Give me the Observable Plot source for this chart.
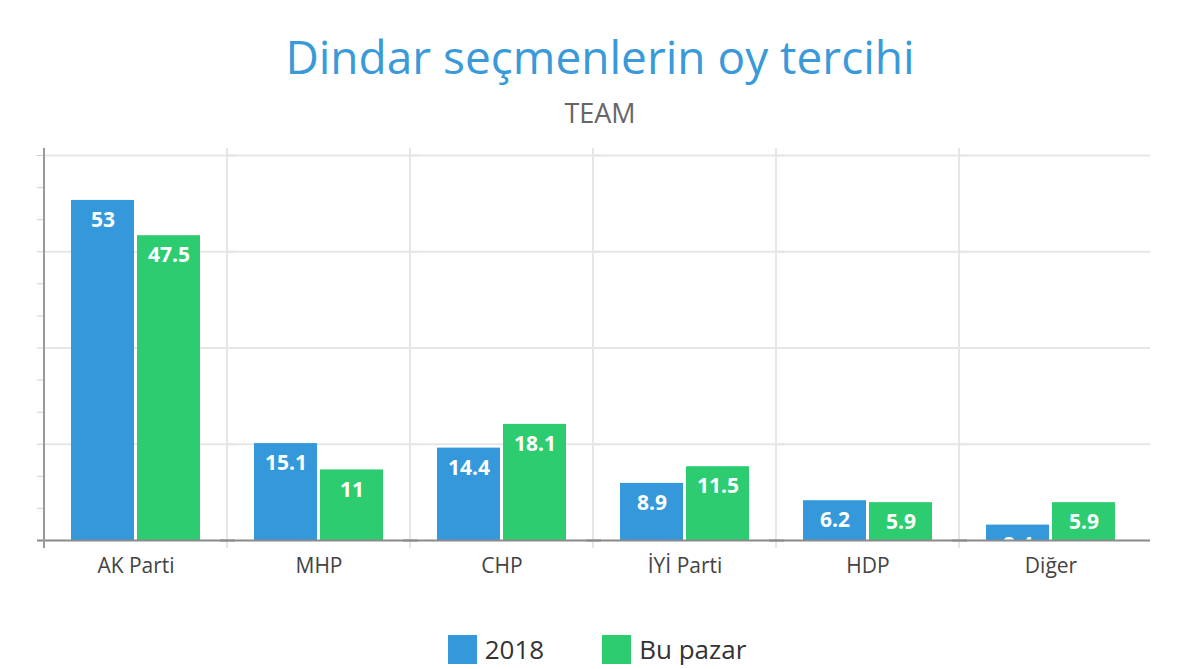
<!DOCTYPE html>
<html>
<head>
<meta charset="utf-8">
<script src="https://cdn.jsdelivr.net/npm/d3@7"></script>
<script src="https://cdn.jsdelivr.net/npm/@observablehq/plot@0.6"></script>
<style>
  html, body { margin: 0; padding: 0; background: #fff; }
  body { width: 1200px; height: 669px; overflow: hidden; font-family: "Open Sans", sans-serif; }
  #head { height: 130px; position: relative; }
  #title { position: absolute; left: 0; right: 0; top: 33px; text-align: center; font-size: 46px; color: #3a9ad9; line-height: 1; }
  #subtitle { position: absolute; left: 0; right: 0; top: 99px; text-align: center; font-size: 27px; color: #666; line-height: 1; }
  #chart { height: 470px; }
  #legend { height: 69px; display: flex; justify-content: center; align-items: flex-start; padding-top: 31px; padding-right: 6px; box-sizing: border-box; }
  .item { display: flex; align-items: center; font-size: 26px; color: #333; margin: 0 29px; }
  .sw { width: 29px; height: 29px; margin-right: 8px; }
</style>
</head>
<body>
<div id="head">
  <div id="title">Dindar seçmenlerin oy tercihi</div>
  <div id="subtitle">TEAM</div>
</div>
<div id="chart"></div>
<div id="legend"></div>
<script>
const parties = ["AK Parti", "MHP", "CHP", "İYİ Parti", "HDP", "Diğer"];
const seriesNames = ["2018", "Bu pazar"];
const values2018 = [53, 15.1, 14.4, 8.9, 6.2, 2.4];
const valuesBuPazar = [47.5, 11, 18.1, 11.5, 5.9, 5.9];
const colors = ["#3498db", "#2ecc71"];
const yTicks = [0, 5, 10, 15, 20, 25, 30, 35, 40, 45, 50, 55, 60];
const yGrid = [15, 30, 45, 60];

const data = [];
parties.forEach((p, i) => {
  data.push({party: p, series: seriesNames[0], value: values2018[i]});
  data.push({party: p, series: seriesNames[1], value: valuesBuPazar[i]});
});

const plot = Plot.plot({
  width: 1200,
  height: 470,
  marginLeft: 42,
  marginRight: 56,
  marginTop: 25,
  marginBottom: 60,
  style: {fontFamily: "Open Sans, sans-serif", background: "#fff"},
  fx: {domain: parties, padding: 0, label: null},
  x: {domain: seriesNames, paddingInner: 0.045, paddingOuter: 0.39, axis: null},
  y: {domain: [0, 60], label: null},
  color: {domain: seriesNames, range: colors},
  marks: [
    Plot.ruleY(yGrid, {stroke: "#e6e6e6", strokeWidth: 2, insetRight: -8}),
    Plot.axisY({ticks: yTicks, tickSize: 7, tickFormat: () => "", stroke: "#cfcfcf", label: null}),
    Plot.barY(data, {fx: "party", x: "series", y: "value", fill: "series", inset: 0}),
    Plot.text(data, {fx: "party", x: "series", y: "value", text: d => String(d.value), dy: 20, fill: "#fff", fontSize: 21, fontWeight: "bold", clip: true}),
    Plot.ruleY([0], {stroke: "#8a8a8a", strokeWidth: 2, insetLeft: -7, insetRight: -8}),
    Plot.axisFx({anchor: "bottom", tickSize: 0, tickPadding: 18, fontSize: 21, fill: "#444", label: null})
  ]
});

document.getElementById("chart").appendChild(plot);

// category boundary gridlines and the y axis line, from Plot's own scales
const fx = plot.scale("fx");
const y = plot.scale("y");
const svg = d3.select(plot);
const gv = svg.insert("g", ":first-child").attr("class", "vgrid");
parties.forEach((p, i) => {
  if (i === 0) return;
  const xx = fx.apply(p);
  gv.append("line").attr("x1", xx).attr("x2", xx)
    .attr("y1", y.apply(60) - 7).attr("y2", y.apply(0) + 8)
    .attr("stroke", "#e6e6e6").attr("stroke-width", 2);
});
const x0 = fx.apply(parties[0]);
svg.append("line").attr("x1", x0).attr("x2", x0)
  .attr("y1", y.apply(60) - 7).attr("y2", y.apply(0) + 8)
  .attr("stroke", "#999").attr("stroke-width", 2);

// legend
const legend = d3.select("#legend");
seriesNames.forEach((s, i) => {
  const it = legend.append("div").attr("class", "item");
  it.append("div").attr("class", "sw").style("background", colors[i]);
  it.append("span").text(s);
});
</script>
</body>
</html>
